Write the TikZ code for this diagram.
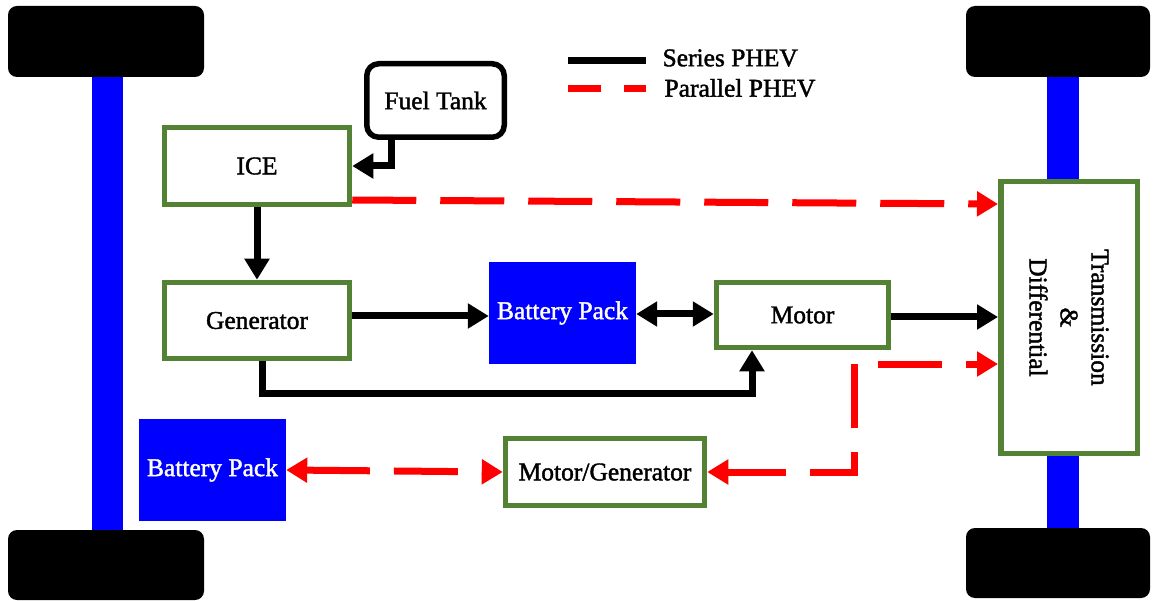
\documentclass[tikz,border=0pt]{standalone}
\usepackage{fontspec}
\setmainfont{Liberation Serif}
\newfontface\diagfont{Liberation Serif}[FakeBold=1.6]
\usetikzlibrary{arrows.meta}
\definecolor{boxgreen}{RGB}{84,130,53}
\definecolor{packblue}{RGB}{0,0,255}
\begin{document}
\begin{tikzpicture}[x=1pt,y=-1pt,
  txt/.style={font=\diagfont\fontsize{25.5}{31}\selectfont},
  greenbox/.style={draw=boxgreen,line width=5.5pt,fill=white,inner sep=0pt,txt},
  packbox/.style={fill=packblue,inner sep=0pt,text=white,txt},
  tankbox/.style={draw=black,line width=5.5pt,fill=white,rounded corners=12pt,inner sep=0pt,txt},
  wheel/.style={fill=black,rounded corners=9pt},
  axle/.style={fill=packblue},
  tip/.tip={Triangle[length=21pt,width=24pt]},
  series/.style={line width=7pt,black,-tip},
  parallel/.style={line width=7pt,red,dash pattern=on 64pt off 24pt,-tip}]
\useasboundingbox (0,0) rectangle (1156,601);
% axles and wheels
\fill[axle] (92,77) rectangle (123,530);
\fill[axle] (1047,77) rectangle (1079,528);
\fill[wheel] (8,6) rectangle (204,77);
\fill[wheel] (8,530) rectangle (204,600);
\fill[wheel] (966,6) rectangle (1150,77);
\fill[wheel] (966,528) rectangle (1150,598);
% nodes
\node[tankbox,minimum width=137.5pt,minimum height=73.5pt] (fuel) at (435.5,100.5) {Fuel Tank};
\node[greenbox,minimum width=185pt,minimum height=77pt] (ice) at (257,166) {ICE};
\node[greenbox,minimum width=185pt,minimum height=76pt] (gen) at (257,320.5) {Generator};
\node[packbox,minimum width=147pt,minimum height=102pt] (bat) at (562.5,313) {Battery Pack};
\node[greenbox,minimum width=172pt,minimum height=65pt] (motor) at (802.5,315) {Motor};
\node[greenbox,minimum width=136.5pt,minimum height=271.5pt] (trans) at (1069,317.5) {};
\node[txt,rotate=-90,align=center] (transtxt) at (trans.center) {Transmission\\\&\\Differential};
\node[packbox,minimum width=147pt,minimum height=102pt] (bat2) at (212.5,470) {Battery Pack};
\node[greenbox,minimum width=199pt,minimum height=67pt] (mg) at (605,472) {Motor/Generator};
% legend
\coordinate (la) at (568,61);
\coordinate (lb) at (646,61);
\coordinate (lc) at (568,89);
\coordinate (ld) at (646,89);
\draw[line width=7pt,black] (la) -- (lb);
\draw[line width=7pt,red,dash pattern=on 33pt off 23pt] (lc) -- (ld);
\node[txt,anchor=west] (lser) at (659,58) {Series PHEV};
\node[txt,anchor=west] (lpar) at (661,88) {Parallel PHEV};
% series connectors
\draw[series] ([xshift=-44.5]fuel.south) |- (ice.east);
\draw[series] (ice.south) -- (gen.north);
\draw[series] ([yshift=4.5]gen.east) -- ([yshift=-3]bat.west);
\draw[series,tip-tip] ([yshift=-1]bat.east) -- ([yshift=1]motor.west);
\draw[series] ([yshift=-2]motor.east) -- ([yshift=0.5]trans.west);
\draw[series] ([xshift=5]gen.south) -- ++(0,32.5) -| ([xshift=-50.5]motor.south);
% parallel connectors
\draw[parallel] ([yshift=-34]ice.east) -- ([yshift=113.5]trans.west);
\draw[parallel,tip-tip,dash phase=5pt] (mg.east) -- ++(147,0) |- ([yshift=-46.5]trans.west);
\draw[parallel,tip-tip] (bat2.east) -- (mg.west);
\end{tikzpicture}
\end{document}
